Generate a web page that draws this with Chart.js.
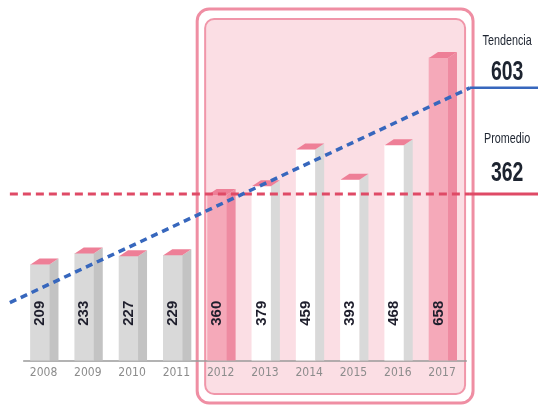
<!DOCTYPE html>
<html><head><meta charset="utf-8">
<script src="https://cdn.jsdelivr.net/npm/chart.js@4/dist/chart.umd.min.js"></script>
<style>html,body{margin:0;padding:0;background:#fff}#wrap{width:538px;height:409px}</style>
</head><body><div id="wrap"><canvas id="c" width="538" height="409"></canvas></div>
<script>
// ---- data ----
const years = ['2008','2009','2010','2011','2012','2013','2014','2015','2016','2017'];
const values = [209, 233, 227, 229, 360, 379, 459, 393, 468, 658];
const valueLabels = ['209','233','227','229','360','379','459','393','468','658'];
const barKinds = ['gray','gray','gray','gray','pink','white','white','white','white','pink'];
const averageValue = 362;
const averageLabel = 'Promedio';
const averageText = '362';
const trendIndex = [-0.68, 9.71];
const trendValues = [126, 593];
const trendLabel = 'Tendencia';
const trendText = '603';
const highlightFrom = '2012';
const highlightTo = '2017';

// ---- styles ----
const X_MIN = -0.903, X_MAX = 11.247, Y_MAX = 784;
const RIGHT_END = 11.4;
const frontCol = {gray:'#d9d9d9', white:'#ffffff', pink:'#f5a9b9'};
const sideCol = {gray:'#c3c3c3', white:'#d9d9d9', pink:'#ee8ba1'};
const capCol = '#ee7f97';
const BLUE = '#3767bd', RED = '#df4a66';

const bar3d = {
  id:'bar3d',
  beforeDraw(chart){
    const ctx = chart.ctx, xs = chart.scales.x;
    const i0 = years.indexOf(highlightFrom), i1 = years.indexOf(highlightTo);
    const rr = (x0,y0,x1,y1,r)=>{ctx.beginPath();ctx.roundRect(x0,y0,x1-x0,y1-y0,r);};
    ctx.save();
    rr(xs.getPixelForValue(i0-0.45), 9, xs.getPixelForValue(i1+0.78), 403, 12);
    ctx.fillStyle='#ffffff'; ctx.fill();
    ctx.lineWidth=3; ctx.strokeStyle='#ef8ea3'; ctx.stroke();
    rr(xs.getPixelForValue(i0-0.27), 19, xs.getPixelForValue(i1+0.6), 394, 9);
    ctx.fillStyle='#fbdee4'; ctx.fill();
    ctx.lineWidth=2; ctx.strokeStyle='#f096a9'; ctx.stroke();
    // axis baseline
    const yb = chart.scales.y.getPixelForValue(0);
    ctx.beginPath();
    ctx.moveTo(xs.getPixelForValue(-0.38), yb+0.5);
    ctx.lineTo(xs.getPixelForValue(9.64), yb+0.5);
    ctx.lineWidth=1.5; ctx.strokeStyle='#9a9a9a'; ctx.stroke();
    ctx.restore();
  },
  afterDatasetDraw(chart, args){
    if(args.index!==0) return;
    const ctx = chart.ctx, ys = chart.scales.y;
    const dx=9, dy=6;
    ctx.save();
    args.meta.data.forEach((el,i)=>{
      const p = el.getProps(['x','y','base','width'], true);
      const x0=p.x-p.width/2, x1=p.x+p.width/2, y=p.y, b=p.base;
      ctx.fillStyle=sideCol[barKinds[i]];
      ctx.beginPath(); ctx.moveTo(x1,y); ctx.lineTo(x1+dx,y-dy); ctx.lineTo(x1+dx,b); ctx.lineTo(x1,b); ctx.closePath(); ctx.fill();
      ctx.fillStyle=capCol;
      ctx.beginPath(); ctx.moveTo(x0,y); ctx.lineTo(x0+dx,y-dy); ctx.lineTo(x1+dx,y-dy); ctx.lineTo(x1,y); ctx.closePath(); ctx.fill();
      // value label
      ctx.save();
      ctx.translate(p.x, ys.getPixelForValue(103));
      ctx.rotate(-Math.PI/2);
      ctx.fillStyle='#1e1e2c';
      ctx.font='bold 15px "Liberation Sans", Arial, sans-serif';
      ctx.textAlign='center'; ctx.textBaseline='middle';
      ctx.fillText(valueLabels[i],0,0);
      ctx.restore();
    });
    ctx.restore();
  },
  afterDraw(chart){
    const ctx = chart.ctx, xs=chart.scales.x, ys=chart.scales.y;
    const cx = xs.getPixelForValue(10.55);
    const put=(txt,font,y)=>{
      ctx.save(); ctx.translate(cx,y); ctx.scale(0.72,1);
      ctx.font=font; ctx.fillStyle='#1d2430'; ctx.textAlign='center'; ctx.textBaseline='alphabetic';
      ctx.fillText(txt,0,0); ctx.restore();
    };
    const yT = ys.getPixelForValue(trendValues[1]);
    const yA = ys.getPixelForValue(averageValue);
    put(trendLabel,'15px "Liberation Sans", Arial, sans-serif', yT-43);
    put(trendText,'bold 27px "Liberation Sans", Arial, sans-serif', yT-8);
    put(averageLabel,'15px "Liberation Sans", Arial, sans-serif', yA-51);
    put(averageText,'bold 27px "Liberation Sans", Arial, sans-serif', yA-13);
  }
};

new Chart(document.getElementById('c'), {
  type:'bar',
  data:{
    datasets:[
      {type:'bar', data: values.map((v,i)=>({x:i,y:v})), backgroundColor: barKinds.map(k=>frontCol[k]),
       barThickness:19, borderWidth:0, order:10},
      {type:'line', data:[{x:trendIndex[0],y:trendValues[0]},{x:trendIndex[1],y:trendValues[1]}],
       borderColor:BLUE, borderWidth:3.5, borderDash:[7,5], pointRadius:0, order:1},
      {type:'line', data:[{x:trendIndex[1],y:trendValues[1]},{x:RIGHT_END,y:trendValues[1]}],
       borderColor:BLUE, borderWidth:2.5, pointRadius:0, order:1},
      {type:'line', data:[{x:trendIndex[0],y:averageValue},{x:trendIndex[1],y:averageValue}],
       borderColor:RED, borderWidth:3, borderDash:[8,5], pointRadius:0, order:2},
      {type:'line', data:[{x:trendIndex[1],y:averageValue},{x:RIGHT_END,y:averageValue}],
       borderColor:RED, borderWidth:3, pointRadius:0, order:2}
    ]
  },
  options:{
    responsive:false, animation:false, events:[],
    layout:{padding:{top:0,bottom:24,left:0,right:0}},
    plugins:{legend:{display:false}, tooltip:{enabled:false}},
    scales:{
      x:{type:'linear', min:X_MIN, max:X_MAX, offset:false,
         grid:{display:false, drawTicks:false}, border:{display:false},
         afterBuildTicks:(s)=>{ s.ticks = years.map((_,i)=>({value:i+0.08})); },
         ticks:{callback:(v)=>years[Math.round(v)], color:'#8c8c8c', autoSkip:false, maxRotation:0, padding:5,
                font:{family:'"Liberation Sans Narrow", "DejaVu Sans Condensed", "Liberation Sans", sans-serif', size:12}}},
      y:{display:false, min:0, max:Y_MAX}
    }
  },
  plugins:[bar3d]
});
</script></body></html>
